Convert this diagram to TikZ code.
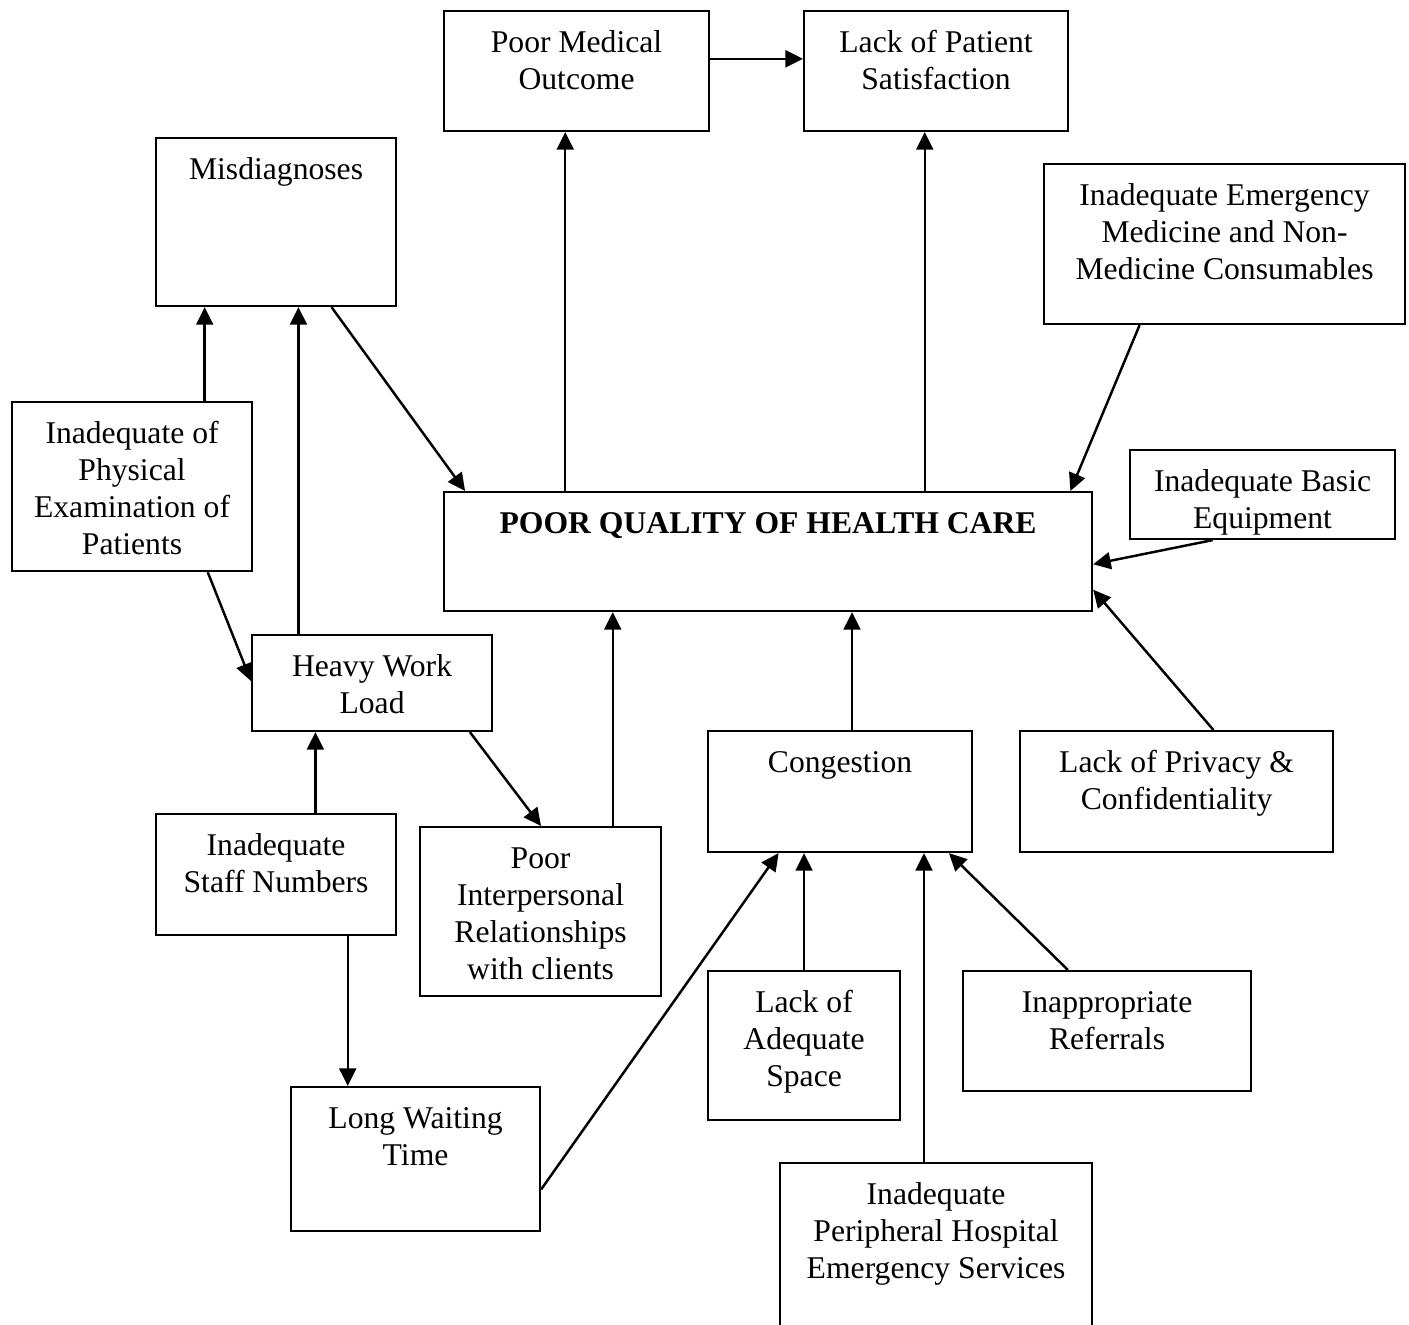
\documentclass[tikz,border=0pt]{standalone}
\usepackage{fontspec}
\setmainfont{Liberation Serif}
\usepackage{tikz}
\usetikzlibrary{arrows.meta,calc}
\tikzset{
  box/.style={draw, line width=0.6pt, inner sep=0pt, anchor=north west},
  link/.style={-{Triangle[length=5pt,width=4.8pt]}, line width=0.7pt}
}
\newcommand{\TopGap}{\rule{0pt}{11.9pt}}
% name, left, top, width, height (all in px), text
\newcommand{\CauseBox}[6]{%
  \pgfmathsetmacro{\boxw}{#4*0.01}%
  \pgfmathsetmacro{\boxh}{#5*0.01}%
  \node[box] (#1) at (#2,#3)
    {\parbox[t][\boxh cm][t]{\boxw cm}{\centering\fontsize{9}{10.5}\selectfont\TopGap#6}};%
}

\begin{document}
\begin{tikzpicture}[x=0.01cm, y=-0.01cm]
  \useasboundingbox (0,0) rectangle (1409,1325);
  % outcomes
  \CauseBox{outcome}{443}{10}{265}{120}{Poor Medical\\Outcome}
  \CauseBox{satisf}{803}{10}{264}{120}{Lack of Patient\\Satisfaction}
  \CauseBox{misdiag}{155}{137}{240}{168}{Misdiagnoses}
  \CauseBox{emerg}{1043}{163}{361}{160}{Inadequate Emergency\\Medicine and Non-\\Medicine Consumables}
  \CauseBox{physical}{11}{401}{240}{169}{Inadequate of\\Physical\\Examination of\\Patients}
  \CauseBox{quality}{443}{491}{648}{119}{\textbf{POOR QUALITY OF HEALTH CARE}}
  \CauseBox{basic}{1129}{449}{265}{89}{Inadequate Basic\\Equipment}
  % causes
  \CauseBox{heavy}{251}{634}{240}{96}{Heavy Work\\Load}
  \CauseBox{congest}{707}{730}{264}{121}{Congestion}
  \CauseBox{privacy}{1019}{730}{313}{121}{Lack of Privacy \&\\Confidentiality}
  \CauseBox{staff}{155}{813}{240}{121}{Inadequate\\Staff Numbers}
  \CauseBox{interp}{419}{826}{241}{169}{Poor\\Interpersonal\\Relationships\\with clients}
  \CauseBox{space}{707}{970}{192}{149}{Lack of\\Adequate\\Space}
  \CauseBox{referral}{962}{970}{288}{120}{Inappropriate\\Referrals}
  \CauseBox{longwait}{290}{1086}{249}{144}{Long Waiting\\Time}
  \CauseBox{periph}{779}{1162}{312}{175}{Inadequate\\Peripheral Hospital\\Emergency Services}

  \draw[link] ($(outcome.north east)!.4!(outcome.south east)$) coordinate (o1) -- (o1 -| satisf.west);
  \draw[link] ($(quality.north west)!.188!(quality.north east)$) coordinate (q1) -- (q1 |- outcome.south);
  \draw[link] ($(quality.north west)!.741!(quality.north east)$) coordinate (q2) -- (q2 |- satisf.south);
  \draw[link] ($(misdiag.south west)!.729!(misdiag.south east)$) -- ($(quality.north west)!.034!(quality.north east)$);
  \draw[link] ($(emerg.south west)!.266!(emerg.south east)$) -- ($(quality.north west)!.965!(quality.north east)$);
  \draw[link] ($(basic.south west)!.313!(basic.south east)$) -- ($(quality.north east)!.605!(quality.south east)$);
  \draw[link] ($(privacy.north west)!.617!(privacy.north east)$) -- ($(quality.north east)!.815!(quality.south east)$);
  \draw[link] ($(congest.north west)!.545!(congest.north east)$) coordinate (c1) -- (c1 |- quality.south);
  \draw[link] ($(interp.north west)!.797!(interp.north east)$) coordinate (p1) -- (p1 |- quality.south);
  % left side
  \draw[link] ($(heavy.south west)!.904!(heavy.south east)$) -- ($(interp.north west)!.502!(interp.north east)$);
  \draw[link] ($(heavy.north west)!.196!(heavy.north east)$) coordinate (h1) -- (h1 |- misdiag.south);
  \draw[link] ($(physical.north west)!.8!(physical.north east)$) coordinate (x1) -- (x1 |- misdiag.south);
  \draw[link] ($(physical.south west)!.8125!(physical.south east)$) -- ($(heavy.north west)!.48!(heavy.south west)$);
  \draw[link] ($(staff.north west)!.6625!(staff.north east)$) coordinate (s1) -- (s1 |- heavy.south);
  \draw[link] ($(staff.south west)!.796!(staff.south east)$) coordinate (s2) -- (s2 |- longwait.north);
  % into congestion
  \draw[link] ($(longwait.north east)!.708!(longwait.south east)$) -- ($(congest.south west)!.269!(congest.south east)$);
  \draw[link] (space.north) -- (space.north |- congest.south);
  \draw[link] ($(referral.north west)!.365!(referral.north east)$) -- ($(congest.south west)!.909!(congest.south east)$);
  \draw[link] ($(periph.north west)!.4615!(periph.north east)$) coordinate (r1) -- (r1 |- congest.south);
\end{tikzpicture}
\end{document}
